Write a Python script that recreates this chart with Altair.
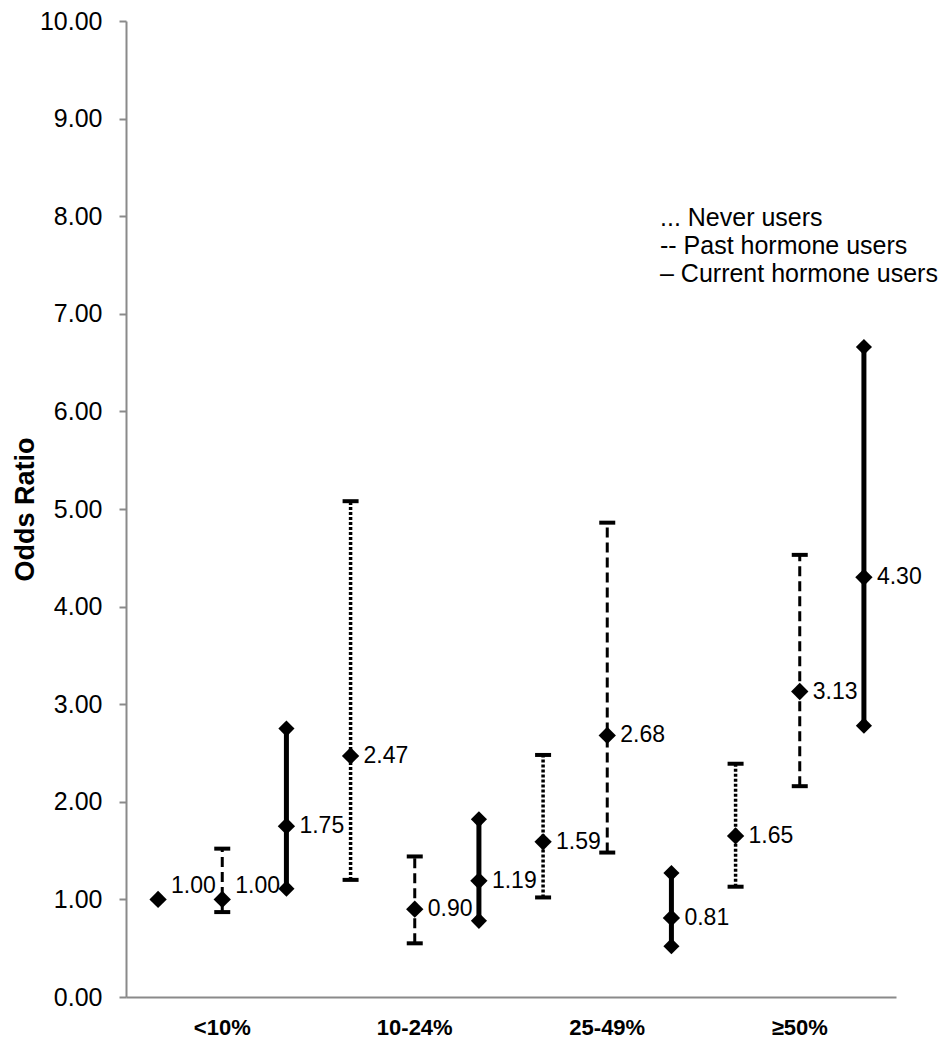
import altair as alt
import pandas as pd

groups = ["<10%", "10-24%", "25-49%", "≥50%"]
series = ["Never users", "Past hormone users", "Current hormone users"]

or_never = [1.00, 2.47, 1.59, 1.65]
lo_never = [None, 1.20, 1.02, 1.13]
hi_never = [None, 5.08, 2.48, 2.39]

or_past = [1.00, 0.90, 2.68, 3.13]
lo_past = [0.87, 0.55, 1.48, 2.16]
hi_past = [1.52, 1.44, 4.86, 4.53]

or_current = [1.75, 1.19, 0.81, 4.30]
lo_current = [1.11, 0.78, 0.52, 2.78]
hi_current = [2.75, 1.82, 1.27, 6.66]

legend_lines = ["... Never users", "-- Past hormone users", "– Current hormone users"]
y_ticks = [0, 1, 2, 3, 4, 5, 6, 7, 8, 9, 10]

rows = []
for s, ors, los, his in [
    (series[0], or_never, lo_never, hi_never),
    (series[1], or_past, lo_past, hi_past),
    (series[2], or_current, lo_current, hi_current),
]:
    for g, o, lo, hi in zip(groups, ors, los, his):
        rows.append({"group": g, "series": s, "or": o, "lo": lo, "hi": hi,
                     "label": f"{o:.2f}"})
df = pd.DataFrame(rows)

FONT = "Liberation Sans, Arial, sans-serif"
NARROW = "Liberation Sans Narrow, Arial Narrow, Liberation Sans, sans-serif"
W, H = 770, 976

x_enc = alt.X(
    "group:N", sort=groups,
    scale=alt.Scale(paddingInner=0, paddingOuter=0),
    axis=alt.Axis(title=None, ticks=False, labelAngle=0, labelFont=FONT,
                  labelFontSize=22, labelFontWeight="bold", labelColor="black",
                  labelPadding=20, domainColor="#8a8a8a", domainWidth=2,
                  grid=False),
)
xo_enc = alt.XOffset("series:N", sort=series,
                     scale=alt.Scale(paddingInner=0, paddingOuter=0))
y_scale = alt.Scale(domain=[0, 10], nice=False)
y_axis = alt.Axis(title="Odds Ratio", values=y_ticks, format=".2f", grid=False,
                  labelFont=FONT, labelFontSize=25, labelColor="black",
                  labelPadding=17, tickSize=7, tickColor="#8a8a8a", tickWidth=2,
                  domainColor="#8a8a8a", domainWidth=2,
                  titleFont=FONT, titleFontSize=27, titleFontWeight="bold",
                  titleColor="black", titleX=-101, titleY=H / 2,
                  titleBaseline="middle", titleAngle=270)

base = alt.Chart(df).encode(x=x_enc, xOffset=xo_enc)

ci = base.transform_filter("isValid(datum.lo)")

rule_never = ci.transform_filter(alt.datum.series == series[0]).mark_rule(
    color="black", strokeWidth=3.5, strokeDash=[3, 2]
).encode(y=alt.Y("lo:Q", scale=y_scale, axis=y_axis), y2="hi:Q")
rule_past = ci.transform_filter(alt.datum.series == series[1]).mark_rule(
    color="black", strokeWidth=3, strokeDash=[10, 5]
).encode(y=alt.Y("lo:Q", scale=y_scale), y2="hi:Q")
rule_cur = ci.transform_filter(alt.datum.series == series[2]).mark_rule(
    color="black", strokeWidth=5
).encode(y=alt.Y("lo:Q", scale=y_scale), y2="hi:Q")

cap_shape = "M-1,-0.25L1,-0.25L1,0.25L-1,0.25Z"
caps_src = ci.transform_filter(alt.datum.series != series[2])
cap_lo = caps_src.mark_point(shape=cap_shape, filled=True, color="black",
                             size=256, opacity=1).encode(y=alt.Y("lo:Q", scale=y_scale))
cap_hi = caps_src.mark_point(shape=cap_shape, filled=True, color="black",
                             size=256, opacity=1).encode(y=alt.Y("hi:Q", scale=y_scale))

dia_src = ci.transform_filter(alt.datum.series == series[2])
dia_lo = dia_src.mark_point(shape="diamond", filled=True, color="black",
                            size=260, opacity=1).encode(y=alt.Y("lo:Q", scale=y_scale))
dia_hi = dia_src.mark_point(shape="diamond", filled=True, color="black",
                            size=260, opacity=1).encode(y=alt.Y("hi:Q", scale=y_scale))

pts = base.mark_point(shape="diamond", filled=True, color="black", size=300,
                      opacity=1).encode(y=alt.Y("or:Q", scale=y_scale))

lab_main = base.transform_filter(alt.datum["or"] != 1).mark_text(
    align="left", baseline="middle", dx=13, font=NARROW, fontSize=23, color="black"
).encode(y=alt.Y("or:Q", scale=y_scale), text="label:N")
lab_ref = base.transform_filter(alt.datum["or"] == 1).mark_text(
    align="left", baseline="middle", dx=13, dy=-13, font=NARROW, fontSize=23,
    color="black"
).encode(y=alt.Y("or:Q", scale=y_scale), text="label:N")

legend = alt.Chart(pd.DataFrame({"k": [0]})).mark_text(
    align="left", baseline="top", font=FONT, fontSize=25, color="black",
    lineHeight=28
).encode(x=alt.value(534), y=alt.value(185), text=alt.value(legend_lines))

chart = alt.layer(
    rule_never, rule_past, rule_cur, cap_lo, cap_hi, dia_lo, dia_hi, pts,
    lab_main, lab_ref, legend
).properties(
    width=W, height=H,
    autosize=alt.AutoSizeParams(type="none"),
    padding={"left": 118, "top": 13, "right": 43, "bottom": 45},
).configure(background="white", view=alt.ViewConfig(stroke=None))

chart.save("out.html", embed_options={"renderer": "svg", "actions": False})
